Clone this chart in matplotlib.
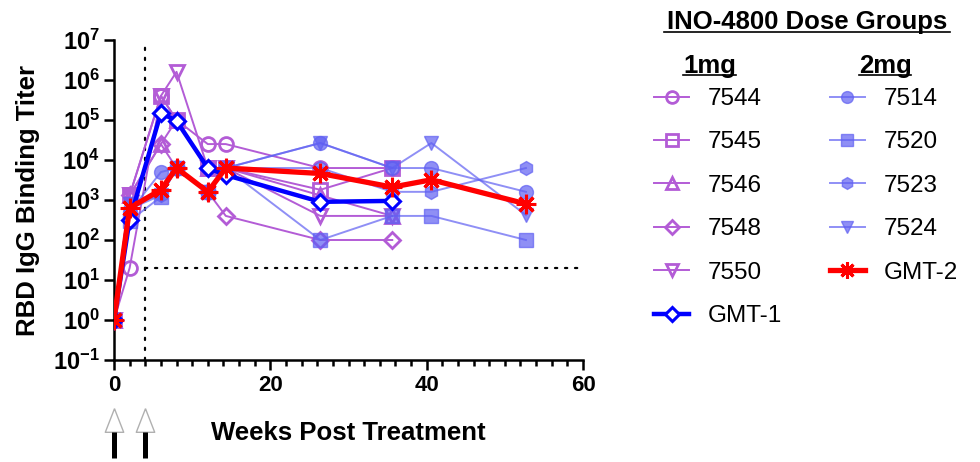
import matplotlib
matplotlib.use("Agg")
import matplotlib.pyplot as plt
from matplotlib.lines import Line2D

plt.rcParams['font.family'] = ['Liberation Sans', 'DejaVu Sans']
plt.rcParams['mathtext.fontset'] = 'custom'
plt.rcParams['mathtext.rm'] = 'Liberation Sans'
plt.rcParams['mathtext.bf'] = 'Liberation Sans:bold'

# weeks post treatment (sampling days / 7)
weeks = [0, 2, 6, 8, 12, 14.3, 26.4, 35.6, 40.6, 52.7]
weeks_1mg = weeks[:8]

# 1mg animals
t7544 = [1, 20, 400000, 100000, 25000, 25000, 6300, 6300]
t7545 = [1, 1300, 400000, 100000, 6300, 6300, 1800, 6300]
t7546 = [1, 1300, 25000, 100000, 6300, 6300, 1300, 400]
t7548 = [1, 1300, 25000, 6300, 1600, 400, 100, 100]
t7550 = [1, 1300, 400000, 1600000, 6300, 6300, 400, 400]
gmt1 = [1, 320, 150000, 95000, 6300, 4200, 900, 950]

# 2mg animals
t7514 = [1, 500, 5000, 6300, 1600, 6300, 26600, 6300, 6300, 1600]
t7520 = [1, 300, 1200, 6300, 1600, 6300, 100, 400, 400, 100]
t7523 = [1, 600, 1300, 6300, 1600, 6300, 6300, 1600, 1600, 6300]
t7524 = [1, 800, 1300, 6300, 1600, 6300, 26600, 6300, 26600, 420]
gmt2 = [1, 630, 1800, 6300, 1600, 6300, 4600, 2100, 3200, 800]

dose_weeks = [0, 4]
cutoff = 20

purple = '#B35CD6'
lblue = '#6060F2'

fig = plt.figure(figsize=(9.8, 4.62), dpi=100)
ax = fig.add_axes([114/980, 102/462, 469/980, 320/462])

# dotted guide lines
dots = (0, (1, 3.5))
ax.plot([dose_weeks[1]]*2, [0.1, 1e7], color='black', lw=1.6, ls=dots, dash_capstyle='round', zorder=1)
ax.plot([dose_weeks[1], 60], [cutoff]*2, color='black', lw=1.6, ls=dots, dash_capstyle='round', zorder=1)

handles = []
for ys, mk, lab in [(t7544, 'o', '7544'), (t7545, 's', '7545'), (t7546, '^', '7546'),
                    (t7548, 'D', '7548'), (t7550, 'v', '7550')]:
    ms = 8 if mk == 'D' else 10
    h, = ax.plot(weeks_1mg, ys, color=purple, lw=1.4, marker=mk, ms=ms, mfc='none',
                 mec=purple, mew=2, label=lab, zorder=3)
    handles.append(h)
h, = ax.plot(weeks_1mg, gmt1, color='#0000FF', lw=3.2, marker='D', ms=8, mfc='white',
             mec='#0000FF', mew=2.2, label='GMT-1', zorder=6)
handles.append(h)

for ys, mk, lab in [(t7514, 'o', '7514'), (t7520, 's', '7520'), (t7523, 'h', '7523'),
                    (t7524, 'v', '7524')]:
    h, = ax.plot(weeks, ys, color=lblue, alpha=0.7, lw=1.4, marker=mk, ms=10,
                 label=lab, zorder=4)
    handles.append(h)
h, = ax.plot(weeks, gmt2, color='#FF0000', lw=3.8, marker=(8, 2, 0), ms=14, mew=2.2,
             label='GMT-2', zorder=7)
handles.append(h)

ax.set_yscale('log')
ax.set_ylim(0.1, 1e7)
ax.set_xlim(0, 60)
exps = list(range(-1, 8))
ax.set_yticks([10.0**k for k in exps])
ax.set_yticklabels([r'$\mathbf{10^{%d}}$' % k for k in exps])
ax.yaxis.set_minor_locator(matplotlib.ticker.NullLocator())
ax.set_xticks([0, 20, 40, 60])
ax.set_xticks(range(0, 61, 2), minor=True)
for lab in ax.get_xticklabels():
    lab.set_fontweight('bold')

for s in ['top', 'right']:
    ax.spines[s].set_visible(False)
for s in ['left', 'bottom']:
    ax.spines[s].set_linewidth(1.8)
ax.tick_params(which='major', length=7, width=1.8, pad=3)
ax.tick_params(axis='x', which='major', labelsize=16, pad=4)
ax.tick_params(axis='y', labelsize=17)
ax.tick_params(axis='x', which='minor', length=4.5, width=1.8)

ax.set_xlabel('Weeks Post Treatment', fontsize=18.5, fontweight='bold')
ax.xaxis.set_label_coords(0.5, -0.19)
ax.set_ylabel('RBD IgG Binding Titer', fontsize=18.5, fontweight='bold')
ax.yaxis.set_label_coords(-0.158, 0.5)

# dosing arrows under the axis
tri = [(0, 1), (-0.78, -1), (0.78, -1), (0, 1)]
xt = ax.get_xaxis_transform()
ax.plot(dose_weeks, [-0.1875]*2, transform=xt, ls='none', marker=tri, ms=17,
        mfc='white', mec='#B0B0B0', mew=1, clip_on=False)
for d in dose_weeks:
    ax.plot([d, d], [-0.225, -0.306], transform=xt, color='black', lw=3.6,
            solid_capstyle='butt', clip_on=False)

# legend with headers
fig.text(807/980, 1 - 22/462, 'INO-4800 Dose Groups', ha='center', va='center',
         fontsize=18.5, fontweight='bold')
fig.add_artist(Line2D([664/980, 950/980], [1 - 32/462]*2, color='black', lw=1.2))
fig.text(710/980, 1 - 66/462, '1mg', ha='center', va='center', fontsize=18.5, fontweight='bold')
fig.add_artist(Line2D([683/980, 736/980], [1 - 75/462]*2, color='black', lw=1.2))
fig.text(885/980, 1 - 66/462, '2mg', ha='center', va='center', fontsize=18.5, fontweight='bold')
fig.add_artist(Line2D([859/980, 911/980], [1 - 75/462]*2, color='black', lw=1.2))

fig.legend(handles=handles, labels=[h.get_label() for h in handles], ncol=2,
           loc='upper left', bbox_to_anchor=(654/980, 1 - 88/462), frameon=False,
           borderpad=0, borderaxespad=0, fontsize=17.5, handlelength=1.44,
           handletextpad=0.78, columnspacing=1.95, labelspacing=0.88, markerscale=0.85)

fig.savefig('out.png', dpi=100)
